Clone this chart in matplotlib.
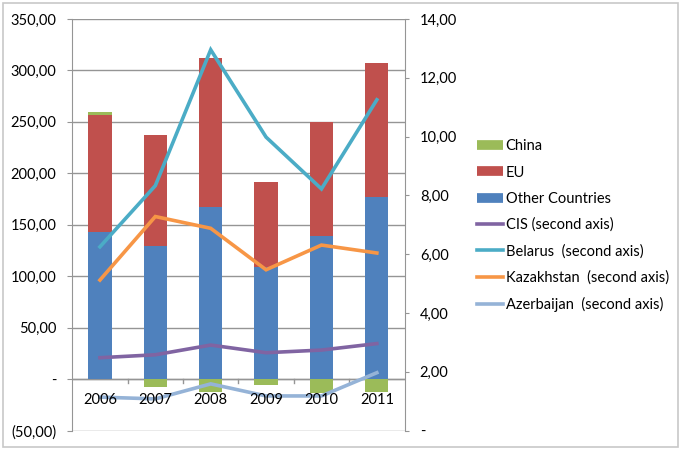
import matplotlib.pyplot as plt
import numpy as np
from matplotlib.lines import Line2D
from matplotlib.patches import Rectangle
from matplotlib.ticker import FuncFormatter

years = ["2006", "2007", "2008", "2009", "2010", "2011"]

# bars, left axis
other = [143, 129, 167, 109, 139, 177]
eu = [114, 108, 145, 83, 111, 130]
china = [3, -8, -12, -6, -13, -12]

# lines, second axis
cis = [2.48, 2.58, 2.91, 2.65, 2.74, 2.96]
belarus = [6.25, 8.33, 12.95, 9.98, 8.22, 11.25]
kazakhstan = [5.12, 7.28, 6.88, 5.47, 6.31, 6.04]
azerbaijan = [1.14, 1.08, 1.59, 1.18, 1.18, 1.97]

C_CHINA = "#9BBB59"
C_EU = "#C0504D"
C_OTHER = "#4F81BD"
C_CIS = "#8064A2"
C_BEL = "#4BACC6"
C_KAZ = "#F79646"
C_AZE = "#95B3D7"
GRID = "#959595"

plt.rcParams["font.family"] = ["Lato", "DejaVu Sans"]
plt.rcParams["font.size"] = 10


def comma_fmt(v, _pos):
    if abs(v) < 1e-9:
        return "-"
    s = f"{abs(v):,.2f}".replace(",", " ").replace(".", ",")
    return f"({s})" if v < 0 else s


fig = plt.figure(figsize=(6.88, 4.5), dpi=100)
fig.patches.append(Rectangle((0.004, 0.006), 0.982, 0.988, transform=fig.transFigure,
                             fill=False, edgecolor="#C8C8C8", linewidth=1.2))

ax = fig.add_axes([0.105, 0.043, 0.483, 0.915])
x = np.arange(len(years))
w = 0.42

ax.bar(x, other, w, color=C_OTHER, zorder=2)
ax.bar(x, eu, w, bottom=other, color=C_EU, zorder=2)
china_bottom = [o + e if c >= 0 else 0 for o, e, c in zip(other, eu, china)]
ax.bar(x, china, w, bottom=china_bottom, color=C_CHINA, zorder=2)

ax.set_xlim(-0.5, len(years) - 0.5)
ax.set_ylim(-50, 350)
ax.set_yticks(np.arange(-50, 351, 50))
ax.yaxis.set_major_formatter(FuncFormatter(comma_fmt))
ax.yaxis.grid(True, color=GRID, linewidth=1.0, zorder=0)
ax.set_axisbelow(True)
ax.tick_params(axis="y", length=3.6, color=GRID, pad=8, labelsize=10.5)

ax.set_xticks([])
for s in ("top", "bottom", "right"):
    ax.spines[s].set_visible(False)
ax.spines["left"].set_color(GRID)
ax.axhline(0, color=GRID, linewidth=1.0, zorder=1)
for b in np.arange(0.5, len(years) - 0.5, 1):
    ax.plot([b, b], [0, -4], color=GRID, linewidth=1.0, zorder=1)

ax2 = ax.twinx()
ax2.set_ylim(0, 14)
ax2.set_yticks(np.arange(0, 15, 2))
ax2.yaxis.set_major_formatter(FuncFormatter(comma_fmt))
ax2.tick_params(axis="y", length=3, color=GRID, pad=8, labelsize=10.5)
for s in ("top", "bottom", "left"):
    ax2.spines[s].set_visible(False)
ax2.spines["right"].set_color(GRID)

lw = 2.6
ax2.plot(x, cis, color=C_CIS, linewidth=lw, solid_joinstyle="miter", zorder=3)
ax2.plot(x, belarus, color=C_BEL, linewidth=lw, solid_joinstyle="miter", zorder=3)
ax2.plot(x, kazakhstan, color=C_KAZ, linewidth=lw, solid_joinstyle="miter", zorder=3)
ax2.plot(x, azerbaijan, color=C_AZE, linewidth=lw, solid_joinstyle="miter", zorder=3)

# year labels sit on the zero line of the bar axis, drawn over the lines
for xi, yr in zip(x, years):
    ax2.text(xi, -20, yr, transform=ax.transData, ha="center", va="center",
             fontsize=10.5, zorder=5)

handles = [
    Line2D([], [], color=C_CHINA, linewidth=7, solid_capstyle="butt"),
    Line2D([], [], color=C_EU, linewidth=7, solid_capstyle="butt"),
    Line2D([], [], color=C_OTHER, linewidth=7, solid_capstyle="butt"),
    Line2D([], [], color=C_CIS, linewidth=2.6),
    Line2D([], [], color=C_BEL, linewidth=2.6),
    Line2D([], [], color=C_KAZ, linewidth=2.6),
    Line2D([], [], color=C_AZE, linewidth=2.6),
]
labels = ["China", "EU", "Other Countries", "CIS (second axis)",
          "Belarus  (second axis)", "Kazakhstan  (second axis)", "Azerbaijan  (second axis)"]
fig.legend(handles, labels, loc="upper left", bbox_to_anchor=(0.685, 0.703),
           frameon=False, fontsize=10.5, handlelength=1.8, handletextpad=0.15,
           labelspacing=0.83, borderaxespad=0)

fig.savefig("out.png", dpi=100)
